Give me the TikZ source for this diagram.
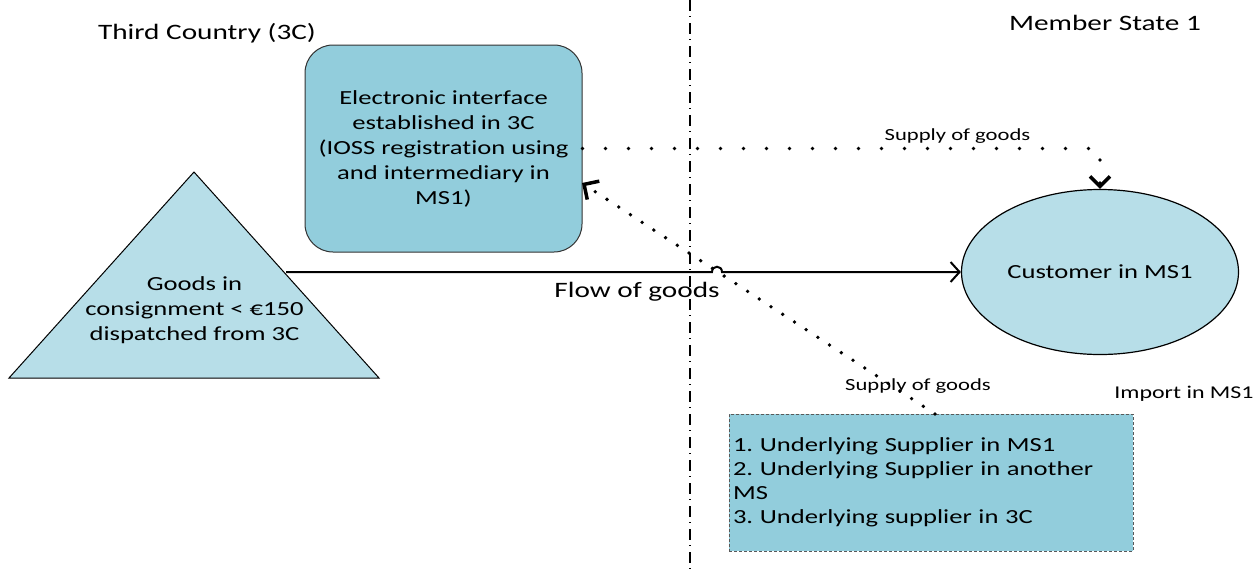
\documentclass[tikz,border=0pt]{standalone}
\usepackage{fontspec}
\setmainfont{Carlito}[FakeStretch=1.33,Ligatures=NoCommon]
\usetikzlibrary{shapes.geometric,arrows.meta}
\definecolor{aquaA}{HTML}{92CDDC}
\definecolor{aquaB}{HTML}{B7DEE8}
\frenchspacing
\begin{document}
\begin{tikzpicture}[x=1pt,y=-1pt,
  body/.style={font=\fontsize{20}{25}\selectfont},
  lbl/.style={inner sep=0, anchor=base, font=\fontsize{22}{26}\selectfont},
  small/.style={inner sep=0, anchor=base, font=\fontsize{17}{20}\selectfont},
  dotsA/.style={line width=3.8pt, line cap=round, dash pattern=on 0pt off 23pt},
  dotsB/.style={line width=3.8pt, line cap=round, dash pattern=on 0pt off 14pt},
  barb/.style={-{Straight Barb[length=#1,width=2*#1,line width=3.5pt]}}
]
\useasboundingbox (0,0) rectangle (1259,573);
% border line
\coordinate (vt) at (690,0);
\coordinate (vb) at (690,573);
\draw[line width=1.3pt, dash pattern=on 11pt off 5pt on 1pt off 6pt] (vt) -- (vb);

% shapes
\node[draw=black!80, line width=1pt, fill=aquaA, rounded corners=28pt,
      minimum width=277pt, minimum height=207pt, align=center, body] (ei) at (443.5,148.5)
  {Electronic interface\\established in 3C\\(IOSS registration using\\and intermediary in\\MS1)};

\coordinate (tA) at (194,172);
\coordinate (tL) at (9,378);
\coordinate (tR) at (379,378);
\draw[fill=aquaB, line width=1pt] (tA) -- (tL) -- (tR) -- cycle;
\node[body, align=center, inner sep=0] (goods) at (194.5,310)
  {Goods in\\consignment < €150\\dispatched from 3C};

\node[ellipse, draw, line width=1.2pt, fill=aquaB, minimum width=277pt, minimum height=165pt,
      inner sep=0, body] (cust) at (1100,272) {Customer in MS1};

\node[draw=black!65, dash pattern=on 3pt off 2pt, line width=0.9pt, fill=aquaA,
      minimum width=404pt, minimum height=137pt, text width=396pt, align=left,
      inner xsep=4pt, inner ysep=0pt, font=\fontsize{20}{24}\selectfont] (sup) at (931,482.5)
  {1. Underlying Supplier in MS1\\2. Underlying Supplier in another\\MS\\3. Underlying supplier in 3C};

% connectors
\coordinate (triR) at (286,272);
\draw[line width=2pt, -{Straight Barb[length=9pt,width=20pt]}]
  (triR) -- (712,272) .. controls (712,265) and (722,265) .. (722,272) -- (cust.west);

\draw[dotsA, barb=10pt] (ei.east) -- (ei.east -| cust.north) -- (cust.north);

\coordinate (supTop) at (935,414);
\coordinate (eiIn) at (582,183);
\draw[dotsB, barb=11pt] (supTop) -- (eiIn);

% labels
\node[lbl] (tc) at (207,39) {Third Country (3C)};
\node[lbl] (ms) at (1105,30) {Member State 1};
\node[small] (sg1) at (957.5,140) {Supply of goods};
\node[small] (sg2) at (918,390) {Supply of goods};
\node[inner sep=0, anchor=base, font=\fontsize{18}{22}\selectfont] (imp) at (1184,398) {Import in MS1};
\node[lbl] (fg) at (637,297) {Flow of goods};
\end{tikzpicture}
\end{document}
